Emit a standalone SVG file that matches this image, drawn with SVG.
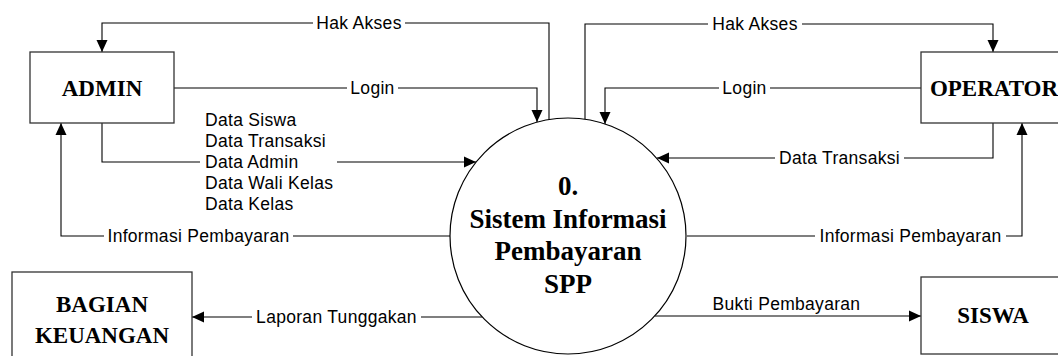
<svg xmlns="http://www.w3.org/2000/svg" width="1058" height="356" viewBox="0 0 1058 356">
  <style>
    .box { fill: #fff; stroke: #333; stroke-width: 1.3; }
    .proc { fill: #fff; stroke: #000; stroke-width: 1.2; }
    .ent { font-family: "Liberation Serif", "Times New Roman", serif; font-weight: bold; font-size: 23px; text-anchor: middle; fill: #000; }
    .ptxt { font-family: "Liberation Serif", "Times New Roman", serif; font-weight: bold; font-size: 27px; text-anchor: middle; fill: #000; }
    .flow { fill: none; stroke: #000; stroke-width: 1.1; }
    .lbl { font-family: "Liberation Sans", Arial, sans-serif; font-size: 17.5px; letter-spacing: 0.3px; fill: #000; }
    .mid { text-anchor: middle; }
  </style>
  <defs>
    <marker id="arrow" viewBox="0 0 12 12" refX="12" refY="6" markerWidth="12" markerHeight="12" markerUnits="userSpaceOnUse" orient="auto">
      <path d="M0,0.5 L12,6 L0,11.5 Z" fill="#000"/>
    </marker>
  </defs>
  <rect width="1058" height="356" fill="#fff"/>

  <!-- data flows -->
  <g id="connectors">
    <!-- Hak Akses to ADMIN -->
    <path class="flow" d="M549,120 V23 H405"/>
    <path class="flow" d="M313,23 H102 V52" marker-end="url(#arrow)"/>
    <text class="lbl mid" x="359" y="29">Hak Akses</text>

    <!-- Login from ADMIN -->
    <path class="flow" d="M174,88 H347"/>
    <path class="flow" d="M398,88 H537 V122" marker-end="url(#arrow)"/>
    <text class="lbl mid" x="372.5" y="94">Login</text>

    <!-- master data from ADMIN -->
    <path class="flow" d="M102,123 V162 H200"/>
    <path class="flow" d="M337,162 H476" marker-end="url(#arrow)"/>
    <text class="lbl" x="205" y="126">Data Siswa</text>
    <text class="lbl" x="205" y="147">Data Transaksi</text>
    <text class="lbl" x="205" y="168">Data Admin</text>
    <text class="lbl" x="205" y="189">Data Wali Kelas</text>
    <text class="lbl" x="205" y="210">Data Kelas</text>

    <!-- Informasi Pembayaran to ADMIN -->
    <path class="flow" d="M450,236 H293"/>
    <path class="flow" d="M104,236 H61 V123" marker-end="url(#arrow)"/>
    <text class="lbl mid" x="198.5" y="242">Informasi Pembayaran</text>

    <!-- Hak Akses to OPERATOR -->
    <path class="flow" d="M585,119 V24 H708"/>
    <path class="flow" d="M802,24 H993 V52" marker-end="url(#arrow)"/>
    <text class="lbl mid" x="755" y="30">Hak Akses</text>

    <!-- Login from OPERATOR -->
    <path class="flow" d="M921,88 H770"/>
    <path class="flow" d="M719,88 H605 V124" marker-end="url(#arrow)"/>
    <text class="lbl mid" x="744.5" y="94">Login</text>

    <!-- Data Transaksi from OPERATOR -->
    <path class="flow" d="M993,123 V158 H904"/>
    <path class="flow" d="M775,158 H657" marker-end="url(#arrow)"/>
    <text class="lbl mid" x="839.5" y="164">Data Transaksi</text>

    <!-- Informasi Pembayaran to OPERATOR -->
    <path class="flow" d="M687,236 H815"/>
    <path class="flow" d="M1006,236 H1022 V123" marker-end="url(#arrow)"/>
    <text class="lbl mid" x="910.5" y="242">Informasi Pembayaran</text>

    <!-- Laporan Tunggakan to BAGIAN KEUANGAN -->
    <path class="flow" d="M482,317 H421"/>
    <path class="flow" d="M252,317 H192" marker-end="url(#arrow)"/>
    <text class="lbl mid" x="336.5" y="323">Laporan Tunggakan</text>

    <!-- Bukti Pembayaran to SISWA -->
    <path class="flow" d="M655,316 H921" marker-end="url(#arrow)"/>
    <text class="lbl mid" x="786.5" y="310">Bukti Pembayaran</text>
  </g>

  <g id="process">
    <circle class="proc" cx="568" cy="236" r="118"/>
    <text class="ptxt" x="568" y="195">0.</text>
    <text class="ptxt" x="568" y="228">Sistem Informasi</text>
    <text class="ptxt" x="568" y="260">Pembayaran</text>
    <text class="ptxt" x="568" y="293">SPP</text>
  </g>

  <g id="admin">
    <rect class="box" x="30" y="52" width="144" height="71"/>
    <text class="ent" x="102" y="96">ADMIN</text>
  </g>

  <g id="operator">
    <rect class="box" x="921" y="52" width="144" height="71"/>
    <text class="ent" x="994" y="96">OPERATOR</text>
  </g>

  <g id="bagian-keuangan">
    <rect class="box" x="12" y="272" width="180" height="100"/>
    <text class="ent" x="102" y="312">BAGIAN</text>
    <text class="ent" x="102" y="343">KEUANGAN</text>
  </g>

  <g id="siswa">
    <rect class="box" x="921" y="277" width="144" height="77"/>
    <text class="ent" x="993" y="323">SISWA</text>
  </g>
</svg>
